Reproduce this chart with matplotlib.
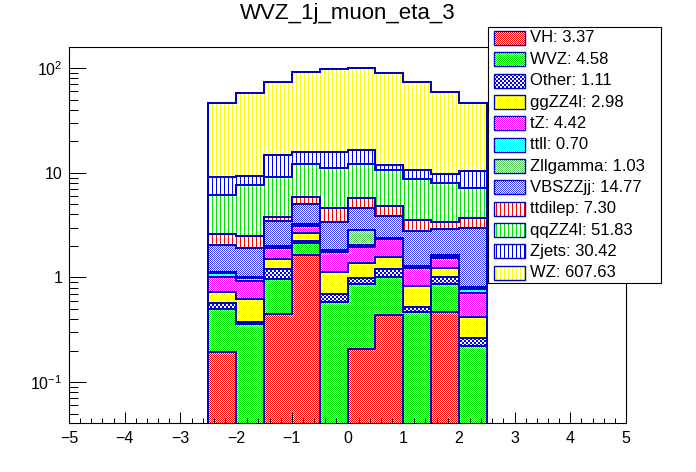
import numpy as np
import matplotlib
matplotlib.use("Agg")
import matplotlib.pyplot as plt
from matplotlib.patches import Rectangle
from matplotlib.ticker import FixedLocator, MultipleLocator, NullFormatter, LogLocator

plt.rcParams['font.family'] = ['Liberation Sans', 'DejaVu Sans']
plt.rcParams['mathtext.fontset'] = 'custom'
plt.rcParams['mathtext.rm'] = 'Liberation Sans'
plt.rcParams['mathtext.it'] = 'Liberation Sans:italic'
plt.rcParams['mathtext.bf'] = 'Liberation Sans:bold'

# ---------------- data ----------------
title = "WVZ_1j_muon_eta_3"
bin_edges = [-2.5, -2.0, -1.5, -1.0, -0.5, 0.0, 0.5, 1.0, 1.5, 2.0, 2.5]

process_names = ["VH", "WVZ", "Other", "ggZZ4l", "tZ", "ttll", "Zllgamma",
                 "VBSZZjj", "ttdilep", "qqZZ4l", "Zjets", "WZ"]
process_totals = [3.37, 4.58, 1.11, 2.98, 4.42, 0.70, 1.03, 14.77, 7.30,
                  51.83, 30.42, 607.63]

vh       = [0.192, 0.0,   0.443, 1.622, 0.0,   0.205, 0.434, 0.0,   0.463, 0.0]
wvz      = [0.303, 0.356, 0.514, 0.519, 0.577, 0.652, 0.566, 0.471, 0.394, 0.222]
other    = [0.070, 0.021, 0.235, 0.096, 0.116, 0.121, 0.200, 0.055, 0.143, 0.039]
ggzz4l   = [0.155, 0.240, 0.293, 0.395, 0.423, 0.382, 0.373, 0.300, 0.219, 0.153]
tz       = [0.294, 0.299, 0.407, 0.492, 0.617, 0.574, 0.749, 0.401, 0.320, 0.290]
ttll     = [0.079, 0.075, 0.099, 0.084, 0.051, 0.087, 0.051, 0.047, 0.058, 0.073]
zllgamma = [0.025, 0.025, 0.025, 0.030, 0.025, 0.790, 0.025, 0.025, 0.025, 0.025]
vbszzjj  = [0.918, 0.876, 1.456, 1.743, 1.543, 1.810, 1.478, 1.457, 1.258, 2.135]
ttdilep  = [0.540, 0.572, 0.270, 0.840, 1.208, 1.061, 0.890, 0.747, 0.472, 0.722]
qqzz4l   = [3.497, 5.198, 5.276, 6.180, 6.430, 6.320, 5.750, 5.240, 4.550, 3.420]
zjets    = [2.946, 1.557, 5.610, 3.630, 4.640, 4.440, 1.220, 1.780, 1.730, 3.210]
wz       = [36.9,  48.0,  58.3,  75.2,  81.3,  82.7,  77.1,  62.4,  48.9,  35.6]

process_values = [vh, wvz, other, ggzz4l, tz, ttll, zllgamma, vbszzjj,
                  ttdilep, qqzz4l, zjets, wz]

# fill pattern (ROOT-like) and colour per process
patterns = ["check", "check", "check2", "check", "check", "check", "check",
            "check", "vline", "vline", "vline", "vline"]
colors = [(255, 0, 0), (0, 230, 0), (0, 0, 255), (255, 255, 0), (255, 0, 255),
          (0, 255, 255), (90, 200, 90), (60, 60, 230), (255, 0, 0), (0, 230, 0),
          (0, 0, 255), (255, 255, 0)]
line_color = "#0000cc"

# ---------------- figure ----------------
W, H = 696, 472
fig = plt.figure(figsize=(W / 100, H / 100), dpi=100)
fig.patch.set_facecolor("white")

ax = fig.add_axes([69 / W, 49 / H, 557 / W, 376 / H], zorder=1)
ax.patch.set_visible(False)
ax.set_yscale("log")
ax.set_xlim(-5, 5)
ax.set_ylim(0.0408, 158.7)

rr, cc = np.mgrid[0:H, 0:W]


def texture(kind, rgb):
    if kind == "check":
        m = (rr + cc) % 2 == 0
    elif kind == "check2":
        m = ((rr // 2) + (cc // 2)) % 2 == 0
    else:
        m = cc % 4 == 0
    img = np.zeros((H, W, 4), dtype=np.uint8)
    img[m, 0] = rgb[0]
    img[m, 1] = rgb[1]
    img[m, 2] = rgb[2]
    img[m, 3] = 255
    return img


textures = [texture(p, c) for p, c in zip(patterns, colors)]

floor = 1e-3
bottom = np.full(len(bin_edges) - 1, floor)
for vals, tex in zip(process_values, textures):
    top = bottom + np.asarray(vals)
    clip = ax.stairs(top, bin_edges, baseline=bottom, fill=True,
                     facecolor="none", edgecolor="none", linewidth=0)
    fi = fig.figimage(tex, xo=0, yo=0, origin="upper", zorder=0.5)
    fi.set_clip_box(ax.bbox)
    fi.set_clip_path(clip)
    ax.stairs(top, bin_edges, baseline=bottom, fill=False,
              edgecolor=line_color, linewidth=1.44, zorder=3)
    bottom = top

# axes styling
for s in ax.spines.values():
    s.set_linewidth(0.8)
    s.set_color("black")
ax.xaxis.set_major_locator(MultipleLocator(1))
ax.xaxis.set_minor_locator(MultipleLocator(0.2))
ax.yaxis.set_major_locator(FixedLocator([0.1, 1, 10, 100]))
ax.set_yticklabels([r"$10^{-1}$", "1", "10", r"$10^{2}$"])
ax.yaxis.set_minor_locator(LogLocator(base=10, subs=np.arange(2, 10)))
ax.yaxis.set_minor_formatter(NullFormatter())
ax.tick_params(which="both", direction="in", top=False, right=False,
               width=0.72, colors="black", labelsize=11.5)
ax.tick_params(axis="x", which="major", length=7.9, pad=5.5)
ax.tick_params(axis="x", which="minor", length=3.6)
ax.tick_params(axis="y", which="major", length=12.2, pad=4.5)
ax.tick_params(axis="y", which="minor", length=6.5)

# title
fig.text(348 / W, 1 - 14 / H, title, ha="center", va="center", fontsize=16)

# ---------------- legend (ROOT TLegend style) ----------------
lx0, lx1, ly0, ly1 = 488, 661, 27, 283
frame = Rectangle((lx0 / W, 1 - ly1 / H), (lx1 - lx0) / W, (ly1 - ly0) / H,
                  transform=fig.transFigure, facecolor="white",
                  edgecolor="black", linewidth=0.8, zorder=2)
fig.add_artist(frame)

row0, pitch = 38.0, 21.34
sw_x0, sw_w, sw_h = 493.5, 31.0, 14.0
for i, (name, tot, tex) in enumerate(zip(process_names, process_totals, textures)):
    yc = row0 + i * pitch
    rect = Rectangle((sw_x0 / W, 1 - (yc + sw_h / 2) / H), sw_w / W, sw_h / H,
                     transform=fig.transFigure, facecolor="none",
                     edgecolor=line_color, linewidth=1.0, zorder=4)
    fig.add_artist(rect)
    fi = fig.figimage(tex, xo=0, yo=0, origin="upper", zorder=3)
    fi.set_clip_path(rect)
    fig.text(530 / W, 1 - yc / H, f"{name}: {tot:.2f}", ha="left",
             va="center", fontsize=12, zorder=4)

fig.savefig("out.png", dpi=100)
